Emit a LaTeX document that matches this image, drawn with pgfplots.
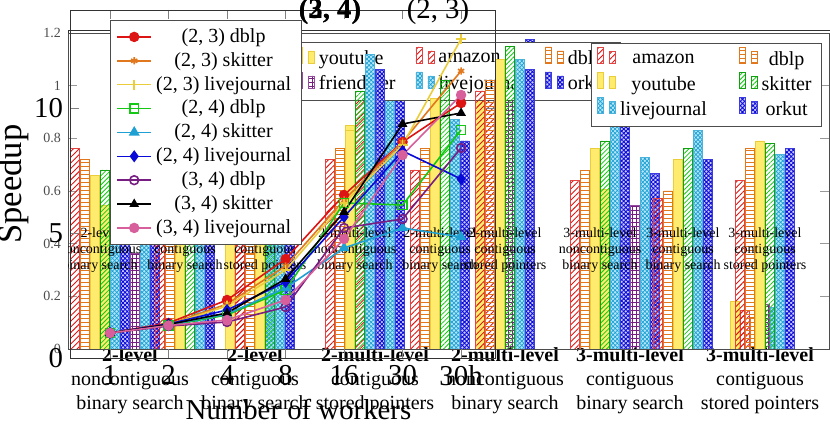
\documentclass[border=0pt]{standalone}
\usepackage{fontspec}
\setmainfont{Liberation Serif}
\usepackage{pgfplots}
\usepackage{pgfplotstable}
\pgfplotsset{compat=1.18}
\usetikzlibrary{patterns,patterns.meta}

\definecolor{cRed}{RGB}{220,20,20}
\definecolor{cOrange}{RGB}{225,120,30}
\definecolor{cYellow}{RGB}{235,205,60}
\definecolor{cGreen}{RGB}{20,200,20}
\definecolor{cCyan}{RGB}{30,160,210}
\definecolor{cBlue}{RGB}{10,10,215}
\definecolor{cPurple}{RGB}{120,30,130}
\definecolor{cPink}{RGB}{215,95,155}
\definecolor{bYellow}{RGB}{255,235,110}

% line chart data (index 0..6 = 1,2,4,8,16,30,30h)
\pgfplotstableread{
x  rA   oA   yA    gB   cB   bB   pC   kC   mC
0  1.00 1.00 1.00  1.00 1.00 1.00 1.00 1.00 1.00
1  1.40 1.34 1.32  1.30 1.32 1.36 1.28 1.34 1.30
2  2.32 2.16 2.08  1.72 1.76 1.92 1.44 1.80 1.52
3  3.96 3.68 3.52  2.72 2.80 3.04 2.04 3.16 2.32
4  6.52 6.32 6.20  6.20 4.40 5.64 5.20 5.84 4.76
5  8.64 8.64 8.52  6.12 5.20 8.28 5.56 9.36 8.12
6  10.2 11.48 12.76 9.12 4.84 7.16 8.40 9.80 10.52
}\speedup

% bar chart 1 (nine variants)
\pgfplotstableread{
x    amazon dblp  youtube skitter livejournal orkut
100  0.76   0.72  0.66    0.68    0.70        0.68
185  0.57   0.53  0.60    0.55    0.59        0.57
265  0.64   0.66  0.60    0.76    0.83        0.72
355  0.72   0.76  0.83    0.98    1.12        1.06
440  0.68   0.76  0.95    1.02    0.87        0.79
505  0.98   1.02  1.10    1.15    1.10        1.06
600  0.64   0.68  0.76    0.79    0.95        1.06
683  0.57   0.60  0.72    0.76    0.83        0.72
765  0.64   0.76  0.79    0.78    0.74        0.76
}\variants

% bar chart 2 (six variants)
\pgfplotstableread{
x    youtube amazon dblp friendster livejournal orkut
130  0.45    0.60   0.55 0.30       0.50        0.45
255  0.35    0.40   0.30 0.25       0.45        0.40
375  0.70    0.80   0.75 0.60       0.90        0.85
505  0.95    0.90   0.95 0.85       0.95        0.97
630  0.50    0.35   0.40 0.45       0.60        0.55
760  0.15    0.12   0.10 0.14       0.13        0.12
}\variantsB

\begin{document}
\begin{tikzpicture}[
  amz/.style={draw=cRed!80, pattern={Lines[angle=45,distance=2pt,line width=0.45pt]}, pattern color=cRed},
  dbl/.style={draw=cOrange, pattern={Lines[angle=0,distance=2pt,line width=0.45pt]}, pattern color=cOrange},
  ytb/.style={draw=cYellow, fill=bYellow},
  skt/.style={draw=cGreen!80!black, pattern={Lines[angle=45,distance=1.6pt,line width=0.4pt]}, pattern color=cGreen},
  ljn/.style={draw=cCyan!80, fill=cyan!30, postaction={pattern={Hatch[angle=45,distance=1.5pt,line width=0.35pt]}, pattern color=cCyan}},
  ork/.style={draw=cBlue!80, fill=blue!20, postaction={pattern={Hatch[angle=45,distance=1.5pt,line width=0.45pt]}, pattern color=cBlue}},
  frs/.style={draw=cPurple!80, pattern={Hatch[angle=0,distance=2pt,line width=0.4pt]}, pattern color=cPurple},
]

% ---------------- bar chart 2 (drawn first, underneath) ----------------
\begin{axis}[
  at={(34pt,38.5pt)}, anchor=south west,
  scale only axis, width=381pt, height=159.5pt,
  xmin=68, xmax=830, ymin=0, ymax=1,
  ybar=0.5pt, bar width=4.5pt,
  axis line style={black!80},
  xtick={130,255,375,505,630,760},
  xticklabels={
    {\textbf{2-level}\\noncontiguous\\binary search},
    {\textbf{2-level}\\contiguous\\binary search},
    {\textbf{2-multi-level}\\contiguous\\stored pointers},
    {\textbf{2-multi-level}\\noncontiguous\\binary search},
    {\textbf{3-multi-level}\\contiguous\\binary search},
    {\textbf{3-multi-level}\\contiguous\\stored pointers}},
  xticklabel style={align=center, font=\normalsize, inner sep=1pt, yshift=2pt},
  ytick=\empty,
  major tick length=0pt,
  legend columns=3,
  legend style={at={(0.291,0.962)}, anchor=north west,
    font=\normalsize, draw=black!70, legend cell align=left,
    /tikz/every even column/.append style={column sep=8pt}},
]
\addplot[ytb] table[x=x,y=youtube]{\variantsB};
\addlegendentry{youtube}
\addplot[amz] table[x=x,y=amazon]{\variantsB};
\addlegendentry{amazon}
\addplot[dbl] table[x=x,y=dblp]{\variantsB};
\addlegendentry{dblp}
\addplot[frs] table[x=x,y=friendster]{\variantsB};
\addlegendentry{friendster}
\addplot[ljn] table[x=x,y=livejournal]{\variantsB};
\addlegendentry{livejournal}
\addplot[ork] table[x=x,y=orkut]{\variantsB};
\addlegendentry{orkut}
\end{axis}

% ---------------- bar chart 1 ----------------
\begin{axis}[
  at={(34pt,38.5pt)}, anchor=south west,
  scale only axis, width=380.5pt, height=158pt,
  xmin=68, xmax=829, ymin=0, ymax=1.2,
  ybar=0.5pt, bar width=4.5pt,
  axis line style={black!70},
  xtick=\empty, ytick={0,0.2,...,1.2},
  yticklabel style={font=\scriptsize, text=black!70},
  /pgf/number format/assume math mode=true,
  tick style={black!40},
  legend columns=2,
  legend style={at={(1,1)}, anchor=north east, xshift=-3.5pt, yshift=-5pt,
    font=\normalsize, draw=black!70, fill=white, legend cell align=center,
    /tikz/every even column/.append style={column sep=14pt}},
]
\addplot[amz] table[x=x,y=amazon]{\variants};
\addlegendentry{amazon}
\addplot[dbl] table[x=x,y=dblp]{\variants};
\addlegendentry{dblp}
\addplot[ytb] table[x=x,y=youtube]{\variants};
\addlegendentry{youtube}
\addplot[skt] table[x=x,y=skitter]{\variants};
\addlegendentry{skitter}
\addplot[ljn] table[x=x,y=livejournal]{\variants};
\addlegendentry{livejournal}
\addplot[ork] table[x=x,y=orkut]{\variants};
\addlegendentry{orkut}
\begin{scope}[every node/.style={font=\scriptsize, align=center, inner sep=0pt}]
\node at (axis cs:100,0.376) {2-level\\noncontiguous\\binary search};
\node at (axis cs:185,0.376) {2-level\\contiguous\\binary search};
\node at (axis cs:265,0.376) {2-level\\contiguous\\stored pointers};
\node at (axis cs:355,0.376) {2-multi-level\\noncontiguous\\binary search};
\node at (axis cs:440,0.376) {2-multi-level\\contiguous\\binary search};
\node at (axis cs:505,0.376) {2-multi-level\\contiguous\\stored pointers};
\node at (axis cs:600,0.376) {3-multi-level\\noncontiguous\\binary search};
\node at (axis cs:683,0.376) {3-multi-level\\contiguous\\binary search};
\node at (axis cs:765,0.376) {3-multi-level\\contiguous\\stored pointers};
\end{scope}
\end{axis}

% ---------------- line chart ----------------
\begin{axis}[
  at={(35pt,34pt)}, anchor=south west,
  scale only axis, width=212.5pt, height=174pt,
  xmin=-0.684, xmax=6.58, ymin=0, ymax=13.92,
  xtick={0,...,6}, xticklabels={1,2,4,8,16,30,30h},
  ytick={0,5,10},
  ticklabel style={font=\Large},
  /pgf/number format/assume math mode=true,
  xlabel={Number of workers}, ylabel={Speedup},
  xlabel style={font=\Large, yshift=0pt, xshift=8pt},
  ylabel style={font=\LARGE, yshift=-4pt},
  axis line style={black!80},
  tick style={black!50},
  legend style={at={(0.094,0.971)}, anchor=north west, fill=white,
    font=\normalsize, draw=black!70, legend cell align=center,
    row sep=-0.5pt},
  every axis plot/.append style={line width=0.8pt},
]
\addplot[cRed, mark=*, mark size=2.2pt] table[x=x,y=rA]{\speedup};
\addlegendentry{(2, 3) dblp}
\addplot[cOrange, mark=asterisk, mark size=1.8pt] table[x=x,y=oA]{\speedup};
\addlegendentry{(2, 3) skitter}
\addplot[cYellow, mark=+, mark size=2.5pt] table[x=x,y=yA]{\speedup};
\addlegendentry{(2, 3) livejournal}
\addplot[cGreen, mark=square, mark size=2.2pt] table[x=x,y=gB]{\speedup};
\addlegendentry{(2, 4) dblp}
\addplot[cCyan, mark=triangle*, mark size=2.4pt] table[x=x,y=cB]{\speedup};
\addlegendentry{(2, 4) skitter}
\addplot[cBlue, mark=diamond*, mark size=2.4pt] table[x=x,y=bB]{\speedup};
\addlegendentry{(2, 4) livejournal}
\addplot[cPurple, mark=o, mark size=2.2pt] table[x=x,y=pC]{\speedup};
\addlegendentry{(3, 4) dblp}
\addplot[black, mark=triangle*, mark size=2pt] table[x=x,y=kC]{\speedup};
\addlegendentry{(3, 4) skitter}
\addplot[cPink, mark=*, mark size=2.2pt] table[x=x,y=mC]{\speedup};
\addlegendentry{(3, 4) livejournal}
\end{axis}

\node[font=\Large\bfseries] at (165pt,207pt) {(2, 4)};
\node[font=\Large\bfseries] at (165pt,207pt) {(3, 4)};
\node[font=\Large] at (219pt,207pt) {(2, 3)};

\pgfresetboundingbox
\path[use as bounding box] (0,0) rectangle (415pt,213pt);
\end{tikzpicture}
\end{document}
